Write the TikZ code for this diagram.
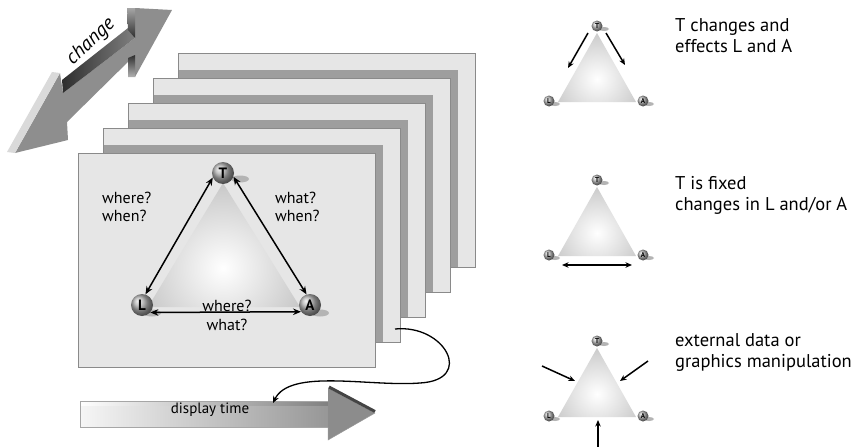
\documentclass[tikz,border=0pt]{standalone}
\usepackage{fontspec}
\setmainfont{PT Sans}
\usetikzlibrary{arrows.meta,calc}
\definecolor{cardfill}{HTML}{E6E6E6}
\definecolor{cardline}{HTML}{8A8A8A}
\definecolor{cardshadow}{HTML}{9E9E9E}
\definecolor{arrowgray}{HTML}{8E8E8E}
\definecolor{lightface}{HTML}{DADADA}
\definecolor{darkface}{HTML}{2E2E2E}
\definecolor{trigray}{HTML}{A4A4A4}
\definecolor{ballgray}{HTML}{B0B0B0}
\definecolor{ballshadow}{HTML}{B4B4B4}
\definecolor{headgray}{HTML}{8C8C8C}
\definecolor{headedge}{HTML}{444444}
\definecolor{shaftleft}{HTML}{F6F6F6}
\definecolor{shaftright}{HTML}{969696}
\begin{document}
\begin{tikzpicture}[x=1pt,y=-1pt,
  card/.style={fill=cardfill,draw=cardline,line width=0.7pt},
  cshadow/.style={fill=cardshadow},
  bigball/.style={circle,shading=ball,ball color=ballgray,inner sep=0pt,minimum size=22pt,font=\bfseries\fontsize{15}{15}\selectfont},
  smallball/.style={circle,shading=ball,ball color=ballgray,inner sep=0pt,minimum size=11pt,font=\bfseries\fontsize{7}{7}\selectfont},
  bigdbl/.style={{Stealth[length=8pt,width=6.5pt]}-{Stealth[length=8pt,width=6.5pt]},line width=1.5pt},
  smallarr/.style={-{Stealth[length=6.5pt,width=5.5pt]},line width=1.5pt},
  smalldbl/.style={{Stealth[length=6.5pt,width=5.5pt]}-{Stealth[length=6.5pt,width=5.5pt]},line width=1.5pt},
  lbl/.style={font=\fontsize{16}{18.5}\selectfont,inner sep=0pt,align=left},
  sidelbl/.style={font=\fontsize{18.5}{20.5}\selectfont,inner sep=0pt,align=left,anchor=base west},
]
\useasboundingbox (0,0) rectangle (857,447);
\fill[white] (0,0) rectangle (857,447);

% ---- change arrow ----
\fill[arrowgray] (15,153) -- (60,73) -- (63,93) -- (135,38) -- (135,8) -- (172,10) -- (135,77) -- (135,55) -- (67,122) -- (68,140) -- cycle;
\fill[lightface] (7,152) -- (52,72) -- (60,73) -- (15,153) -- cycle;
\shade[left color=darkface,right color=gray] (62,80) -- (128,28) -- (135,38) -- (63,93) -- cycle;
\shade[top color=gray!70,bottom color=darkface] (127,8) -- (135,8) -- (135,38) -- (128,30) -- cycle;
\shade[top color=darkface,bottom color=gray!60] (128,58) -- (135,55) -- (135,77) -- (128,77) -- cycle;
\node[font=\itshape\fontsize{20}{20}\selectfont,rotate=43,inner sep=0pt] (chg) at (91,42) {change};

% ---- stacked cards ----
\foreach \i in {4,3,2,1}{
  \begin{scope}[shift={(25*\i,-25*\i)}]
    \fill[cardfill] (78,153) rectangle (375,367);
    \begin{scope}
      \clip (78,153) rectangle (375,367);
      \fill[cshadow] (61,170) rectangle (358,384);
    \end{scope}
    \draw[cardline,line width=0.7pt] (78,153) rectangle (375,367);
  \end{scope}
}
\filldraw[card] (78,153) rectangle (375,367);

% ---- main triangle ----
\begin{scope}
  \clip (223,183) -- (148,307) -- (300,307) -- cycle;
  \shade[inner color=white,outer color=trigray] (223,268) circle (140);
\end{scope}
\fill[ballshadow] (240,179) ellipse (9 and 3.5);
\fill[ballshadow] (320,313) ellipse (9 and 3.5);
\fill[ballshadow] (152,313) ellipse (9 and 3.5);
\node[bigball] (T) at (223,173) {T};
\node[bigball] (L) at (142,305) {L};
\node[bigball] (A) at (310,305) {A};
\draw[bigdbl] (T.204) -- (L.72);
\draw[bigdbl] (T.340) -- (A.108);
\draw[bigdbl] (L.318) -- (A.217);
\node[lbl,anchor=base west] (lw) at (102,221.5) {where?\\when?};
\node[lbl,anchor=base west] (rw) at (275,221.5) {what?\\when?};
\node[lbl,align=center,anchor=base] (bw) at (227,330) {where?\\what?};

% ---- display time arrow ----
\shade[left color=shaftleft,right color=shaftright] (80,401) -- (330,401) -- (330,427) -- (80,427) -- cycle;
\shade[left color=white,right color=gray] (80,401) rectangle (330,405.5);
\draw[gray!70,line width=0.5pt] (80,401) rectangle (330,427);
\fill[headgray] (328,388) -- (375,413) -- (328,440) -- cycle;
\draw[gray!80,line width=0.5pt] (375,413) -- (328,440) -- (328,427);
\draw[headedge,line width=3pt] (329,387) -- (375,411.5);
\node[font=\fontsize{15}{15}\selectfont,anchor=base,inner sep=0pt] (dt) at (210,413) {display time};

% ---- curved connector ----
\coordinate (cstart) at (395,329);
\coordinate (cend) at (273,403);
\draw[line width=1.3pt,-{Stealth[length=7pt,width=6pt]}] (cstart) .. controls (445,324) and (475,380) .. (420,383) .. controls (370,387) and (290,368) .. (cend);

% ---- small triangles ----
\foreach \dy/\n in {0/1,154/2,315/3}{
  \begin{scope}[shift={(0,\dy)}]
    \begin{scope}
      \clip (597,33) -- (558,102) -- (636,102) -- cycle;
      \shade[inner color=white,outer color=trigray] (597,79) circle (80);
    \end{scope}
    \fill[ballshadow] (604,29) ellipse (5 and 2);
    \fill[ballshadow] (555,104) ellipse (5 and 2);
    \fill[ballshadow] (649,104) ellipse (5 and 2);
    \node[smallball] (sT\n) at (597,26) {T};
    \node[smallball] (sL\n) at (549,101) {L};
    \node[smallball] (sA\n) at (643,101) {A};
  \end{scope}
}
% top: T changes
\coordinate (u1s) at (588,33); \coordinate (u1e) at (568,68);
\coordinate (u2s) at (606,33); \coordinate (u2e) at (625,65);
\draw[smallarr] (u1s) -- (u1e);
\draw[smallarr] (u2s) -- (u2e);
% middle: L-A
\coordinate (m1) at (562,265); \coordinate (m2) at (632,265);
\draw[smalldbl] (m1) -- (m2);
% bottom: external
\coordinate (e1s) at (542,366); \coordinate (e1e) at (575,381);
\coordinate (e2s) at (648,361); \coordinate (e2e) at (620,381);
\coordinate (e3s) at (598,447); \coordinate (e3e) at (598,420);
\draw[smallarr] (e1s) -- (e1e);
\draw[smallarr] (e2s) -- (e2e);
\draw[smallarr] (e3s) -- (e3e);

% ---- side labels ----
\node[sidelbl] (t1) at (675,52) {T changes and\\effects L and A};
\node[sidelbl] (t2) at (675,210) {T is fixed\\changes in L and/or A};
\node[sidelbl] (t3) at (675,367) {external data or\\graphics manipulation};
\end{tikzpicture}
\end{document}
